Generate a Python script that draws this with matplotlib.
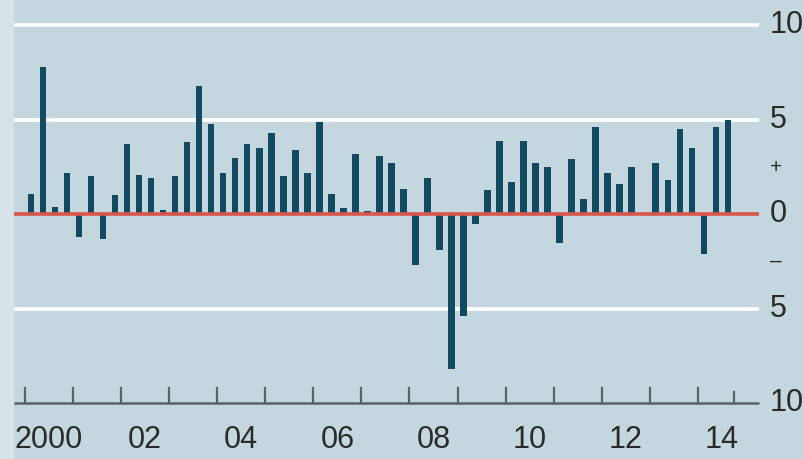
import matplotlib
matplotlib.use("Agg")
import matplotlib.pyplot as plt

# Quarterly values, 2000Q1 .. 2014Q3
years = list(range(2000, 2015))
values = [
    1.1, 7.8, 0.4, 2.2,      # 2000
    -1.2, 2.0, -1.3, 1.0,    # 2001
    3.7, 2.1, 1.9, 0.25,     # 2002
    2.0, 3.8, 6.8, 4.8,      # 2003
    2.2, 3.0, 3.7, 3.5,      # 2004
    4.3, 2.0, 3.4, 2.2,      # 2005
    4.9, 1.1, 0.35, 3.2,     # 2006
    0.2, 3.1, 2.7, 1.35,     # 2007
    -2.7, 1.9, -1.9, -8.2,   # 2008
    -5.4, -0.5, 1.3, 3.9,    # 2009
    1.7, 3.9, 2.7, 2.5,      # 2010
    -1.5, 2.9, 0.8, 4.6,     # 2011
    2.2, 1.6, 2.5, 0.05,     # 2012
    2.7, 1.8, 4.5, 3.5,      # 2013
    -2.1, 4.6, 5.0,          # 2014
]
quarters = [years[0] + (i + 0.5) / 4 for i in range(len(values))]
year_labels = ["2000", "02", "04", "06", "08", "10", "12", "14"]
label_years = [2000, 2002, 2004, 2006, 2008, 2010, 2012, 2014]
right_labels = ["10", "5", "+", "0", "\u2013", "5", "10"]
right_values = [10, 5, 2.5, 0, -2.5, -5, -10]

BG = "#c4d6de"
STRIP = "#d6e4ea"
BAR = "#124a61"
RED = "#d9544a"
AX = "#56646a"
TXT = "#2a2a2a"

fig = plt.figure(figsize=(8.04, 4.59), dpi=100)
fig.patch.set_facecolor(BG)
ax = fig.add_axes([0, 0, 1, 1])
ax.set_facecolor(BG)
ax.set_xlim(1999.48, 2016.21)
ax.set_ylim(-12.95, 11.34)
ax.axis("off")

x_left = 1999.77
x_right = 2015.28
ax.axvspan(1999.48, x_left, color=STRIP, zorder=0, lw=0)

for g in [10, 5, -5]:
    ax.plot([x_left, x_right], [g, g], color="white", lw=2.6, zorder=1,
            solid_capstyle="butt")

ax.bar(quarters, values, width=0.135, color=BAR, zorder=2, lw=0)

ax.plot([x_left, x_right], [0, 0], color=RED, lw=2.6, zorder=3,
        solid_capstyle="butt")

# bottom axis line and ticks
ax.plot([x_left, x_right], [-10, -10], color=AX, lw=1.8, zorder=3,
        solid_capstyle="butt")
for y in years:
    ax.plot([y, y], [-10, -9.2], color=AX, lw=1.6, zorder=3)
ax.plot([2014.75, 2014.75], [-10, -9.4], color=AX, lw=1.6, zorder=3)

font = dict(family=["Liberation Sans", "DejaVu Sans"], color=TXT)
for yv, lab in zip(label_years, year_labels):
    ax.text(yv + 0.5, -11.95, lab, ha="center", va="center",
            fontsize=22, **font)

for v, lab in zip(right_values, right_labels):
    fs = 22 if lab not in ("+", "\u2013") else 15
    ax.text(2015.50, v, lab, ha="left", va="center", fontsize=fs, **font)

fig.savefig("out.png", dpi=100, facecolor=BG)
